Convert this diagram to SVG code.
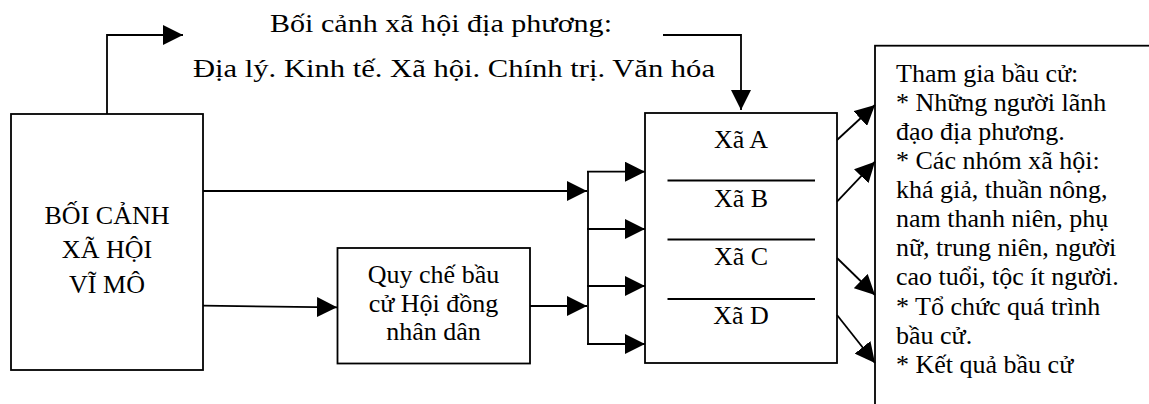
<svg xmlns="http://www.w3.org/2000/svg" width="1149" height="404" viewBox="0 0 1149 404">
<defs>
<marker id="ah" markerUnits="userSpaceOnUse" markerWidth="20" markerHeight="20" refX="20" refY="10" orient="auto" viewBox="0 0 20 20">
<path d="M0,0 L20,10 L0,20 z" fill="#000"/>
</marker>
</defs>
<rect width="1149" height="404" fill="#fff"/>
<g font-family="Liberation Serif" font-size="26" fill="#000">
<g id="macro">
<rect x="11" y="114" width="192" height="256" fill="#fff" stroke="#000" stroke-width="1.8"/>
<text x="107" y="224" text-anchor="middle">BỐI CẢNH</text>
<text x="107" y="258" text-anchor="middle">XÃ HỘI</text>
<text x="107" y="292.5" text-anchor="middle">VĨ MÔ</text>
</g>
<g id="local">
<text x="270" y="32" textLength="342" lengthAdjust="spacingAndGlyphs">Bối cảnh xã hội địa phương:</text>
<text x="193" y="77" textLength="522" lengthAdjust="spacingAndGlyphs">Địa lý. Kinh tế. Xã hội. Chính trị. Văn hóa</text>
</g>
<g id="rules">
<rect x="337.5" y="248" width="192.5" height="115.5" fill="#fff" stroke="#000" stroke-width="1.8"/>
<text x="433.5" y="283.3" text-anchor="middle">Quy chế bầu</text>
<text x="433.5" y="311.7" text-anchor="middle">cử Hội đồng</text>
<text x="433.5" y="340" text-anchor="middle">nhân dân</text>
</g>
<g id="communes">
<rect x="645" y="113" width="192" height="250" fill="#fff" stroke="#000" stroke-width="1.8"/>
<text x="741" y="148.3" text-anchor="middle">Xã A</text>
<line x1="667.5" y1="180.5" x2="815" y2="180.5" stroke="#000" stroke-width="1.8"/>
<text x="741" y="206.7" text-anchor="middle">Xã B</text>
<line x1="667.5" y1="239.5" x2="815" y2="239.5" stroke="#000" stroke-width="1.8"/>
<text x="741" y="265" text-anchor="middle">Xã C</text>
<line x1="667.5" y1="299" x2="815" y2="299" stroke="#000" stroke-width="1.8"/>
<text x="741" y="324" text-anchor="middle">Xã D</text>
</g>
<g id="participation">
<rect x="875" y="45.7" width="400" height="400" fill="#fff" stroke="#000" stroke-width="1.8"/>
<text x="896" y="81.7">Tham gia bầu cử:</text>
<text x="896" y="110.8">* Những người lãnh</text>
<text x="896" y="139.9">đạo địa phương.</text>
<text x="896" y="169">* Các nhóm xã hội:</text>
<text x="896" y="198.1">khá giả, thuần nông,</text>
<text x="896" y="227.2">nam thanh niên, phụ</text>
<text x="896" y="256.3">nữ, trung niên, người</text>
<text x="896" y="285.4">cao tuổi, tộc ít người.</text>
<text x="896" y="314.5">* Tổ chức quá trình</text>
<text x="896" y="343.6">bầu cử.</text>
<text x="896" y="372.7">* Kết quả bầu cử</text>
</g>
</g>
<g id="connectors" fill="none" stroke="#000" stroke-width="1.8">
<polyline points="107,114 107,35 183,35" marker-end="url(#ah)"/>
<polyline points="663,35 741,35 741,110" marker-end="url(#ah)"/>
<line x1="203" y1="191" x2="587" y2="191" marker-end="url(#ah)"/>
<line x1="203" y1="305.7" x2="337" y2="307.3" marker-end="url(#ah)"/>
<line x1="530" y1="306" x2="587" y2="306" marker-end="url(#ah)"/>
<line x1="588" y1="171.7" x2="588" y2="344"/>
<line x1="587" y1="171.7" x2="645" y2="171.7" marker-end="url(#ah)"/>
<line x1="587" y1="229" x2="645" y2="229" marker-end="url(#ah)"/>
<line x1="587" y1="286" x2="645" y2="286" marker-end="url(#ah)"/>
<line x1="587" y1="344" x2="645" y2="344" marker-end="url(#ah)"/>
<line x1="837" y1="140" x2="875" y2="105" marker-end="url(#ah)"/>
<line x1="837" y1="201.7" x2="875" y2="161.7" marker-end="url(#ah)"/>
<line x1="837" y1="258" x2="875" y2="295" marker-end="url(#ah)"/>
<line x1="837" y1="315" x2="875" y2="363" marker-end="url(#ah)"/>
</g>
</svg>
